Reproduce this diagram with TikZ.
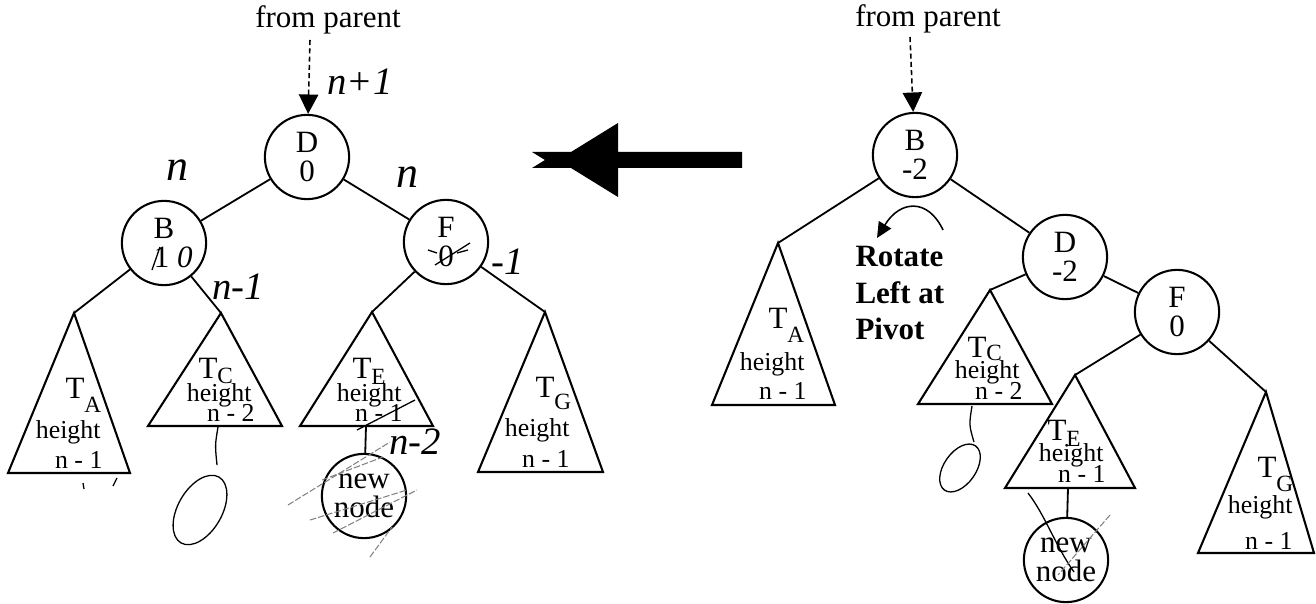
\documentclass[tikz,border=0pt]{standalone}
\usepackage{fontspec}
\setmainfont{Liberation Serif}
\usetikzlibrary{arrows.meta}

% subtree name: T with a lowered letter
\newcommand{\Tsub}[2]{T\raisebox{#1}{\fontsize{9}{9}\selectfont #2}}

\tikzset{
	avl/.style={draw,circle,line width=0.8pt,minimum size=32.6pt,inner sep=0pt,align=center,font=\fontsize{12}{11}\selectfont},
	link/.style={line width=0.7pt},
	subtree/.style={line width=0.8pt,line join=miter},
	toparent/.style={line width=0.6pt,dash pattern=on 2pt off 1.2pt,-{Triangle[length=7.5pt,width=7.5pt]}},
	txt/.style={inner sep=0pt,font=\fontsize{12}{14}\selectfont},
	smalltxt/.style={inner sep=0pt,font=\fontsize{10}{12}\selectfont},
	hand/.style={inner sep=0pt,font=\fontsize{15}{15}\selectfont\itshape},
	bighand/.style={inner sep=0pt,font=\fontsize{17}{17}\selectfont\itshape},
	pen/.style={line width=0.5pt},
	hatch/.style={gray,line width=0.4pt,dash pattern=on 2.5pt off 0.8pt}
}

\begin{document}
\begin{tikzpicture}[x=0.387pt,y=-0.387pt]
	\useasboundingbox (0,0) rectangle (1316,604);
	
	% tree after the rotation
	\node[txt,anchor=base] (fromL) at (328,28) {from parent};
	\node[avl] (D) at (307,157) {D\\0};
	\node[avl] (B) at (164,243) {B\\\hspace{0.6em}1 \textit{0}};
	\node[avl] (F) at (446,242) {F\\0};
	\node[avl] (newL) at (364,496) {new\\node};
	
	\coordinate (Dabove) at (310,40);
	\draw[toparent] (Dabove)--(D);
	\draw[link] (D)--(B);
	\draw[link] (D)--(F);
	
	\coordinate (TA) at (74,313);
	\coordinate (TC) at (221,313);
	\coordinate (TE) at (372,312);
	\coordinate (TG) at (545,312);
	\draw[subtree] (TA)--(130,473)--(8,473)--cycle;
	\draw[subtree] (TC)--(282,426)--(148,426)--cycle;
	\draw[subtree] (TE)--(433,426)--(300,426)--cycle;
	\draw[subtree] (TG)--(603,472)--(478,472)--cycle;
	\draw[link] (B)--(TA);
	\draw[link] (B)--(TC);
	\draw[link] (F)--(TE);
	\draw[link] (F)--(TG);
	
	\coordinate (TEbase) at (366,426);
	\draw[link] (TEbase)--(newL);
	
	\node[txt,anchor=base west] (TAname) at (65,398) {\Tsub{-5.8pt}{A}};
	\node[smalltxt,anchor=base east] (TAh) at (101,438) {height};
	\node[smalltxt,anchor=base east] (TAn) at (103,468) {n - 1};
	
	\node[txt,anchor=base west] (TCname) at (198,378) {\Tsub{-2pt}{C}};
	\node[smalltxt,anchor=base east] (TCh) at (252,401) {height};
	\node[smalltxt,anchor=base east] (TCn) at (255,421) {n - 2};
	
	\node[txt,anchor=base west] (TEname) at (352,378) {\Tsub{-2.7pt}{E}};
	\node[smalltxt,anchor=base east] (TEh) at (402,401) {height};
	\node[smalltxt,anchor=base east] (TEn) at (403,421) {n - 1};
	
	\node[txt,anchor=base west] (TGname) at (535,397) {\Tsub{-5pt}{G}};
	\node[smalltxt,anchor=base east] (TGh) at (570,436) {height};
	\node[smalltxt,anchor=base east] (TGn) at (570,467) {n - 1};
	
	% pencil notes
	\node[hand] (hD) at (360,82) {n+1};
	\node[bighand] (hB) at (177,170) {n};
	\node[bighand] (hF) at (407,177) {n};
	\node[hand] (hC) at (238,287) {n-1};
	\node[hand] (hG) at (508,262) {-1};
	\node[hand] (hE) at (415,442) {n-2};
	
	\draw[pen] (152,270)--(160,247);
	\draw[pen] (428,250)--(437,253);
	\draw[pen] (435,265)--(470,243);
	\draw[pen] (457,253)--(468,250);
	\draw[pen] (357,430)--(415,400);
	\draw[pen] (83,483)--(84,489);
	\draw[pen] (113,486)--(117,478);
	\draw[pen] (218,427) .. controls (215,445) .. (217,465);
	\draw[pen,rotate around={-30:(200,510)}] (200,510) ellipse [x radius=22,y radius=38];
	
	\draw[hatch] (288,505)--(390,442);
	\draw[hatch] (322,480)--(383,457);
	\draw[hatch] (310,520)--(407,490);
	\draw[hatch] (333,533)--(417,490);
	\draw[hatch] (370,557)--(392,527);
	
	% the rotation arrow
	\fill (742,152)--(618,152)--(618,123)--(571,152)--(532,152)--(545,160)--(532,168)
		--(571,168)--(618,197)--(618,168)--(742,168)--cycle;
	
	% tree before the rotation
	\node[txt,anchor=base] (fromR) at (928,27) {from parent};
	\node[avl] (B2) at (915,155) {B\\-2};
	\node[avl] (D2) at (1065,257) {D\\-2};
	\node[avl] (F2) at (1177,312) {F\\0};
	\node[avl] (newR) at (1066,560) {new\\node};
	
	\coordinate (B2above) at (910,37);
	\draw[toparent] (B2above)--(B2);
	\draw[link] (B2)--(D2);
	\draw[link] (D2)--(F2);
	
	\coordinate (TA2) at (778,243);
	\coordinate (TC2) at (990,290);
	\coordinate (TE2) at (1075,375);
	\coordinate (TG2) at (1266,392);
	\draw[subtree] (TA2)--(835,405)--(712,405)--cycle;
	\draw[subtree] (TC2)--(1052,404)--(918,404)--cycle;
	\draw[subtree] (TE2)--(1135,488)--(1005,488)--cycle;
	\draw[subtree] (TG2)--(1314,553)--(1198,553)--cycle;
	\draw[link] (B2)--(TA2);
	\draw[link] (D2)--(TC2);
	\draw[link] (F2)--(TE2);
	\draw[link] (F2)--(TG2);
	
	\coordinate (TE2base) at (1068,488);
	\draw[link] (TE2base)--(newR);
	
	\node[txt,anchor=base west] (TA2name) at (768,328) {\Tsub{-5.8pt}{A}};
	\node[smalltxt,anchor=base east] (TA2h) at (805,370) {height};
	\node[smalltxt,anchor=base east] (TA2n) at (807,399) {n - 1};
	
	\node[txt,anchor=base west] (TC2name) at (967,357) {\Tsub{-1.2pt}{C}};
	\node[smalltxt,anchor=base east] (TC2h) at (1020,378) {height};
	\node[smalltxt,anchor=base east] (TC2n) at (1023,399) {n - 2};
	
	\node[txt,anchor=base west] (TE2name) at (1047,440) {\Tsub{-2.7pt}{E}};
	\node[smalltxt,anchor=base east] (TE2h) at (1104,461) {height};
	\node[smalltxt,anchor=base east] (TE2n) at (1106,482) {n - 1};
	
	\node[txt,anchor=base west] (TG2name) at (1257,477) {\Tsub{-5.8pt}{G}};
	\node[smalltxt,anchor=base east] (TG2h) at (1293,513) {height};
	\node[smalltxt,anchor=base east] (TG2n) at (1293,549) {n - 1};
	
	\node[inner sep=0pt,anchor=north west,align=left,font=\fontsize{12}{14.1}\selectfont\bfseries] (rot) at (855,246) {Rotate\\Left at\\Pivot};
	\draw[pen,line width=0.6pt,-{Triangle[length=6pt,width=5.5pt]}] (943,230) .. controls (928,198) and (900,200) .. (877,238);
	
	% pencil notes
	\draw[pen] (972,406) .. controls (969,425) .. (974,442);
	\draw[pen,rotate around={-35:(960,468)}] (960,468) ellipse [x radius=16,y radius=27];
	\draw[pen] (1028,493) .. controls (1045,515) and (1055,545) .. (1074,572);
	\draw[hatch] (1110,515)--(1058,575);
\end{tikzpicture}
\end{document}
